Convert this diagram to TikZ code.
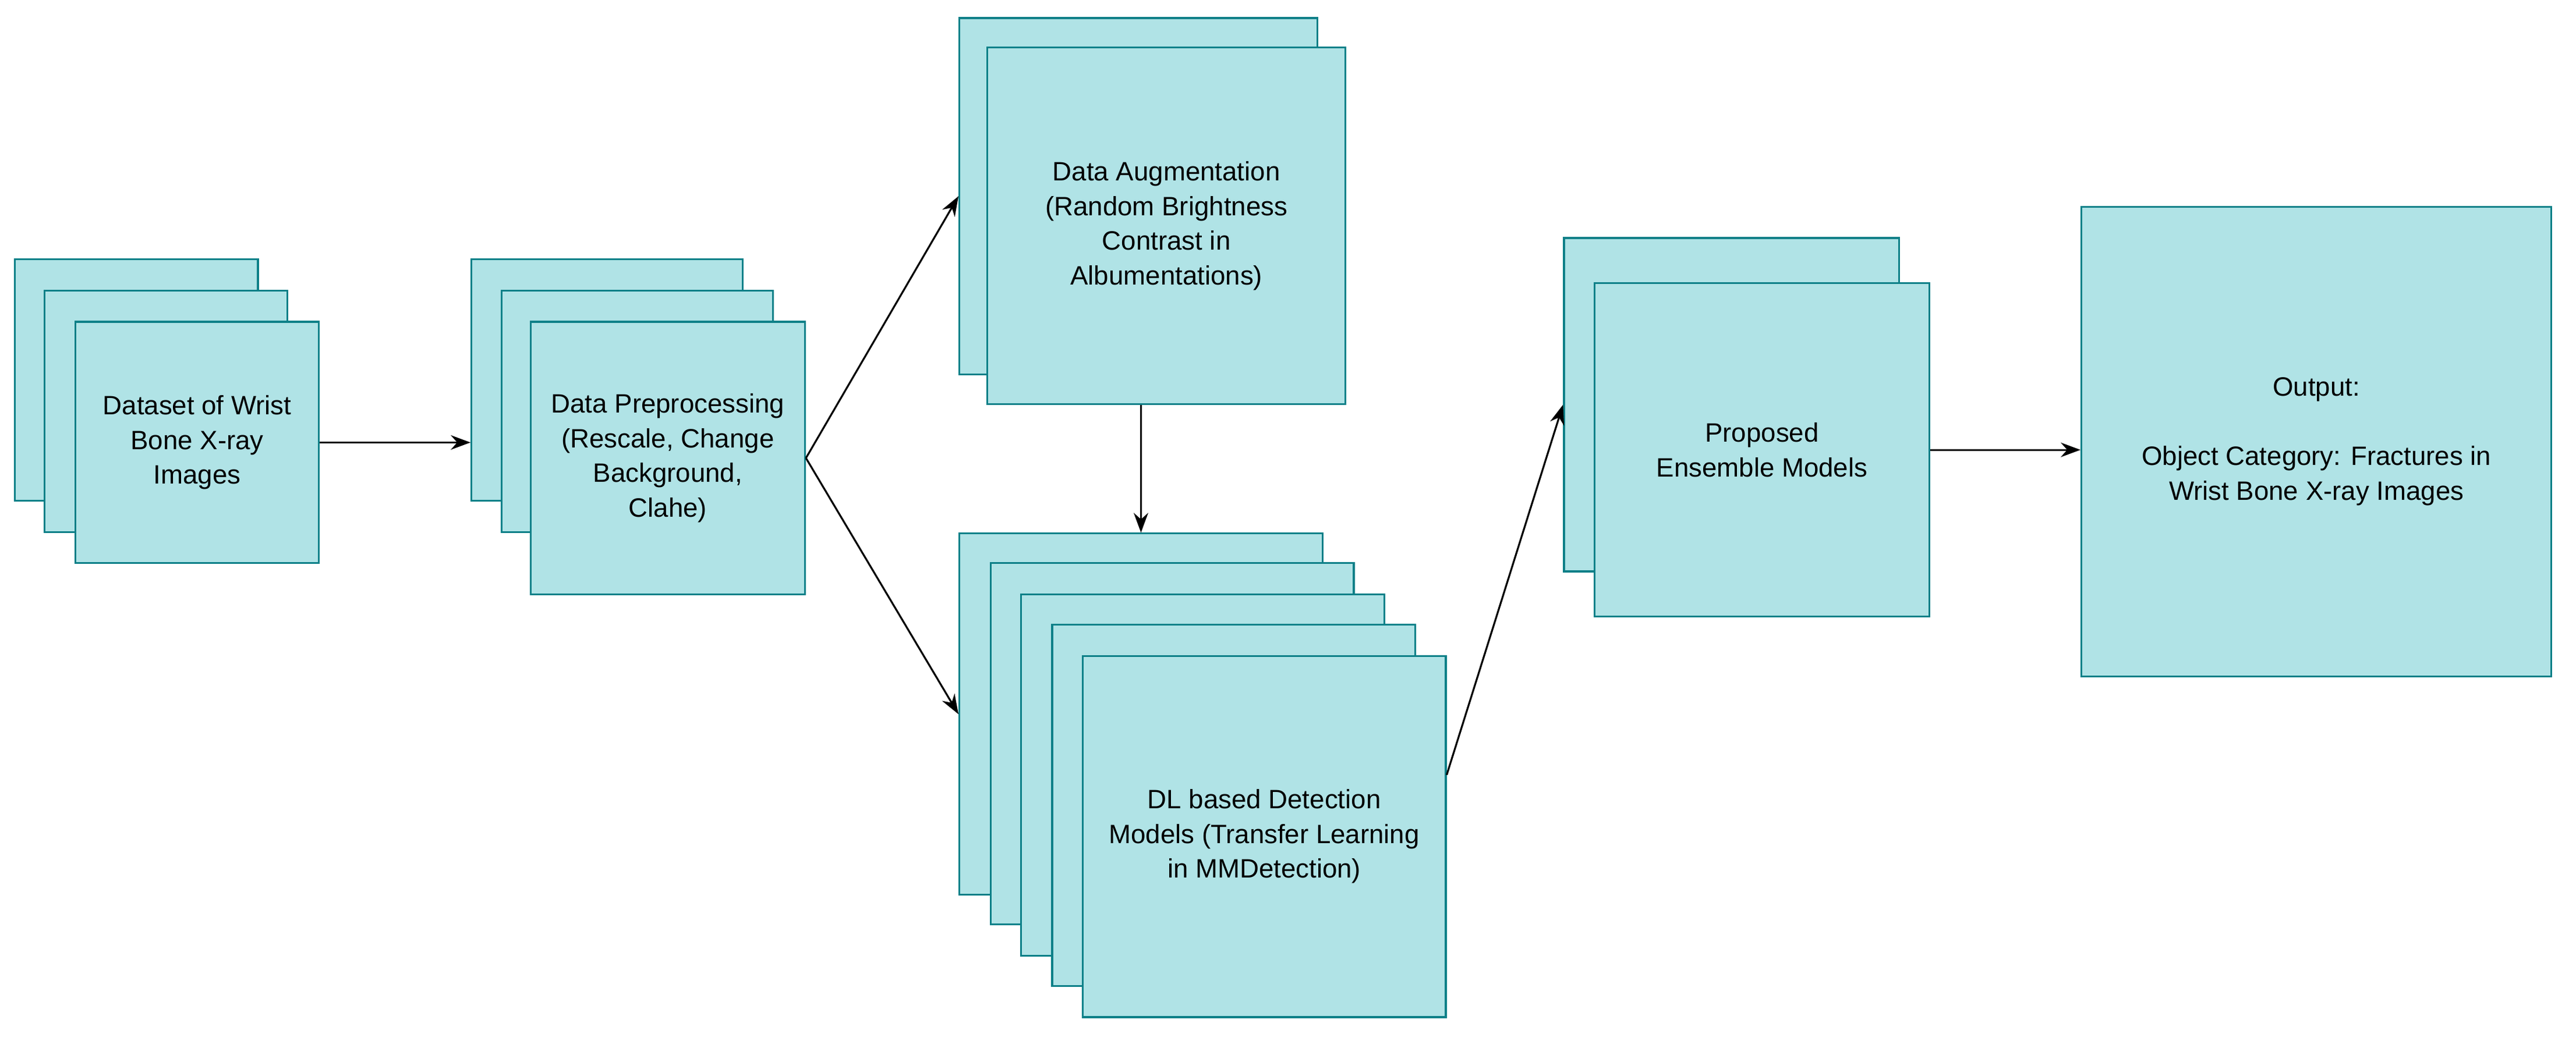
\documentclass[tikz,border=0pt]{standalone}
\usepackage{fontspec}
\setmainfont{Liberation Sans}
\usetikzlibrary{arrows.meta,positioning,calc}
\definecolor{boxfill}{HTML}{B0E3E6}
\definecolor{boxline}{HTML}{0E8088}
\begin{document}
\begin{tikzpicture}[x=0.025cm,y=-0.025cm,font=\fontsize{11.5}{15}\selectfont]
  %----- styles
  \tikzset{
    box/.style  ={draw=boxline,fill=boxfill,line width=0.8pt,inner sep=2pt,align=center},
    small/.style={box,minimum width=3.7cm,minimum height=3.675cm},
    prep/.style ={box,minimum width=4.125cm,minimum height=3.675cm},
    aug/.style  ={box,minimum width=5.45cm,minimum height=5.425cm},
    det/.style  ={box,minimum width=5.525cm,minimum height=5.5cm},
    ens/.style  ={box,minimum width=5.1cm,minimum height=5.075cm},
    arrow/.style={-{Stealth[length=3mm,width=2.2mm]},line width=0.8pt}
  }
  \useasboundingbox (0,0) rectangle (1568,634);

  %----- nodes
  % dataset
  \node[small] (d1) at (83,231.5) {};
  \node[small] (d2) at (101,250.5) {};
  \node[small] (d3) at (120,269.5) {Dataset of Wrist\\Bone X-ray\\Images};
  % preprocessing
  \node[prep] (p1) at (369.5,231.5) {};
  \node[prep] (p2) at (388,250.5) {};
  \node[box,minimum width=4.175cm,minimum height=4.15cm] (p3) at (406.5,279) {Data Preprocessing\\(Rescale, Change\\Background,\\Clahe)};
  % augmentation
  \node[aug] (a1) at (693,119.5) {};
  \node[aug] (a2) at (710,137.5) {Data Augmentation\\(Random Brightness\\Contrast in\\Albumentations)};
  % detection models
  \node[det] (k1) at (694.5,435) {};
  \node[det] (k2) at (713.5,453) {};
  \node[det] (k3) at (732,472) {};
  \node[det] (k4) at (751,490.5) {};
  \node[det] (k5) at (769.5,509.5) {DL based Detection\\Models (Transfer Learning\\in MMDetection)};
  % ensemble
  \node[ens] (e1) at (1054,246.5) {};
  \node[ens] (e2) at (1072.5,274) {Proposed\\Ensemble Models};
  % output
  \node[box,minimum width=7.15cm,minimum height=7.15cm] (out) at (1410,269) {Output:\\[\baselineskip]Object Category: Fractures in\\Wrist Bone X-ray Images};

  %----- connections
  \draw[arrow] (d3.east) -- (d3.east -| p1.west);
  \draw[arrow] (p3.east) -- (a1.west);
  \draw[arrow] (p3.east) -- (k1.west);
  \draw[arrow] (a2.south -| k1.north) -- (k1.north);
  \draw[arrow] (k5.east |- k3.center) -- (e1.west);
  \draw[arrow] (e2.east) -- (e2.east -| out.west);
\end{tikzpicture}
\end{document}
